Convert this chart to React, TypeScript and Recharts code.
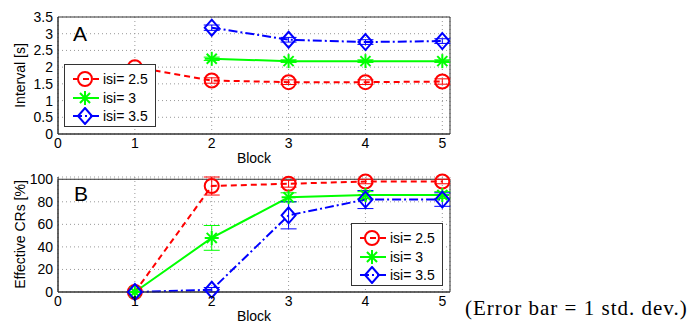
import React from "react";
import {
  LineChart,
  Line,
  XAxis,
  YAxis,
  CartesianGrid,
  ErrorBar,
  Legend,
  ReferenceArea,
} from "recharts";

const blocks = [1, 2, 3, 4, 5];
const xTicks = [0, 1, 2, 3, 4, 5];

// panel A: interval [s]
const intervalIsi25 = [2.0, 1.6, 1.55, 1.55, 1.57];
const intervalIsi3 = [null, 2.25, 2.18, 2.18, 2.18];
const intervalIsi35 = [null, 3.18, 2.82, 2.75, 2.78];
const intervalErr25 = [0.03, 0.08, 0.07, 0.07, 0.08];
const intervalErr3 = [null, 0.05, 0.04, 0.04, 0.04];
const intervalErr35 = [null, 0.08, 0.07, 0.07, 0.07];
const intervalTicks = [0, 0.5, 1, 1.5, 2, 2.5, 3, 3.5];

// panel B: effective CRs [%]
const crIsi25 = [0, 94, 96, 98, 98];
const crIsi3 = [0, 48, 84, 86, 86];
const crIsi35 = [0, 2, 68, 82, 82];
const crErr25 = [0, 8, 3, 2, 2];
const crErr3 = [0, 11, 4, 3, 3];
const crErr35 = [0, 2, 12, 8, 6];
const crTicks = [0, 20, 40, 60, 80, 100];

const seriesNames = ["isi= 2.5", "isi= 3", "isi= 3.5"];

const RED = "#ff0000";
const GREEN = "#00ff00";
const BLUE = "#0000ff";
const FONT = "'Liberation Sans', Arial, sans-serif";

const intervalData = blocks.map((b, i) => ({
  block: b,
  a: intervalIsi25[i],
  b: intervalIsi3[i],
  c: intervalIsi35[i],
  ea: intervalErr25[i],
  eb: intervalErr3[i],
  ec: intervalErr35[i],
}));

const crData = blocks.map((b, i) => ({
  block: b,
  a: crIsi25[i],
  b: crIsi3[i],
  c: crIsi35[i],
  ea: crErr25[i],
  eb: crErr3[i],
  ec: crErr35[i],
}));

type Kind = "circle" | "star" | "diamond";

function Marker({ kind, cx, cy, color }: { kind: Kind; cx: number; cy: number; color: string }) {
  if (kind === "circle") {
    return <circle cx={cx} cy={cy} r={7} fill="none" stroke={color} strokeWidth={2} />;
  }
  if (kind === "star") {
    const r = 7;
    const d = r * 0.72;
    return (
      <g stroke={color} strokeWidth={2}>
        <line x1={cx - r} y1={cy} x2={cx + r} y2={cy} />
        <line x1={cx} y1={cy - r} x2={cx} y2={cy + r} />
        <line x1={cx - d} y1={cy - d} x2={cx + d} y2={cy + d} />
        <line x1={cx - d} y1={cy + d} x2={cx + d} y2={cy - d} />
      </g>
    );
  }
  return (
    <polygon
      points={`${cx},${cy - 8} ${cx + 7},${cy} ${cx},${cy + 8} ${cx - 7},${cy}`}
      fill="none"
      stroke={color}
      strokeWidth={2}
    />
  );
}

const makeDot = (kind: Kind, color: string) => (props: any) => {
  const { cx, cy, index, value } = props;
  if (value == null || cx == null || cy == null) return <g key={`d-${kind}-${index}`} />;
  return (
    <g key={`d-${kind}-${index}`}>
      <Marker kind={kind} cx={cx} cy={cy} color={color} />
    </g>
  );
};

const SERIES = [
  { key: "a", err: "ea", color: RED, dash: "6 4", kind: "circle" as Kind },
  { key: "b", err: "eb", color: GREEN, dash: undefined, kind: "star" as Kind },
  { key: "c", err: "ec", color: BLUE, dash: "9 3 2 3", kind: "diamond" as Kind },
];

function LegendBox() {
  return (
    <div
      style={{
        width: 92,
        height: 63,
        border: "1px solid #333",
        background: "#fff",
        fontFamily: FONT,
        fontSize: 14,
        color: "#000",
        boxSizing: "border-box",
        paddingTop: 5,
      }}
    >
      {SERIES.map((s, i) => (
        <div key={s.key} style={{ display: "flex", alignItems: "center", height: 18.5 }}>
          <svg width={38} height={18} style={{ display: "block" }}>
            <line x1={8} y1={9} x2={34} y2={9} stroke={s.color} strokeWidth={2} strokeDasharray={s.dash} />
            <Marker kind={s.kind} cx={20} cy={9} color={s.color} />
          </svg>
          <span>{seriesNames[i]}</span>
        </div>
      ))}
    </div>
  );
}

const tickStyle = { fill: "#000", fontSize: 14, fontFamily: FONT };

function Panel({
  data,
  yMax,
  yTicks,
  yLabel,
  height,
  bottom,
  legendPos,
}: {
  data: any[];
  yMax: number;
  yTicks: number[];
  yLabel: string;
  height: number;
  bottom: number;
  legendPos: { left: number; top: number };
}) {
  return (
    <LineChart
      width={460}
      height={height}
      data={data}
      margin={{ top: 17, right: 10, bottom, left: 10 }}
      style={{ fontFamily: FONT }}
    >
      <CartesianGrid stroke="#999" strokeDasharray="1 3" />
      <XAxis
        dataKey="block"
        type="number"
        domain={[0, 5.1]}
        ticks={xTicks}
        interval={0}
        allowDataOverflow
        height={31}
        tickSize={0}
        tickMargin={4}
        tick={tickStyle}
        stroke="#333"
        label={{ value: "Block", position: "insideBottom", offset: 2, fill: "#000", fontSize: 14 }}
      />
      <YAxis
        type="number"
        domain={[0, yMax]}
        ticks={yTicks}
        interval={0}
        width={48}
        tickSize={0}
        tickMargin={5}
        tick={tickStyle}
        stroke="#333"
        label={{
          value: yLabel,
          angle: -90,
          position: "insideLeft",
          offset: 10,
          fill: "#000",
          fontSize: 14,
          style: { textAnchor: "middle" },
        }}
      />
      <ReferenceArea x1={0} x2={5.1} y1={0} y2={yMax} fill="none" fillOpacity={0} stroke="#333" />
      {SERIES.map((s) => (
        <Line
          key={s.key}
          dataKey={s.key}
          stroke={s.color}
          strokeWidth={2}
          strokeDasharray={s.dash}
          dot={makeDot(s.kind, s.color)}
          activeDot={false}
          isAnimationActive={false}
          connectNulls={false}
        >
          <ErrorBar dataKey={s.err} width={8} strokeWidth={1} stroke={s.color} direction="y" />
        </Line>
      ))}
      <Legend
        layout="vertical"
        align="center"
        verticalAlign="middle"
        content={() => <LegendBox />}
        wrapperStyle={{ position: "absolute", left: legendPos.left, top: legendPos.top, width: 92 }}
      />
    </LineChart>
  );
}

export default function App() {
  return (
    <div
      style={{
        position: "absolute",
        left: 0,
        top: 0,
        width: 688,
        height: 330,
        background: "#fff",
        overflow: "hidden",
      }}
    >
      <div style={{ position: "absolute", left: 0, top: 0 }}>
        <Panel
          data={intervalData}
          yMax={3.5}
          yTicks={intervalTicks}
          yLabel="Interval [s]"
          height={165}
          bottom={0}
          legendPos={{ left: 64, top: 64 }}
        />
      </div>
      <div style={{ position: "absolute", left: 0, top: 160 }}>
        <Panel
          data={crData}
          yMax={100}
          yTicks={crTicks}
          yLabel="Effective CRs [%]"
          height={170}
          bottom={7}
          legendPos={{ left: 351, top: 63 }}
        />
      </div>
      <div style={{ position: "absolute", left: 73, top: 22, fontFamily: FONT, fontSize: 21 }}>A</div>
      <div style={{ position: "absolute", left: 74, top: 182, fontFamily: FONT, fontSize: 21 }}>B</div>
      <div
        style={{
          position: "absolute",
          left: 465,
          top: 296,
          fontFamily: "'Liberation Serif', 'Times New Roman', serif",
          fontSize: 21,
          letterSpacing: 1,
          whiteSpace: "nowrap",
          color: "#000",
        }}
      >
        (Error bar = 1 std. dev.)
      </div>
    </div>
  );
}
